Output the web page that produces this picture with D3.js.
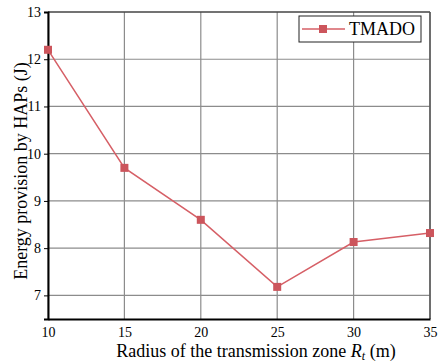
<!DOCTYPE html>
<html>
<head>
<meta charset="utf-8">
<script src="https://cdn.jsdelivr.net/npm/d3@7"></script>
<style>
  body { margin: 0; background: #fff; }
  svg, svg text { font-family: "Liberation Serif", "Times New Roman", serif !important; }
</style>
</head>
<body>
<script>
// chart data
var radius = [10, 15, 20, 25, 30, 35];
var energy = [12.2, 9.7, 8.6, 7.18, 8.13, 8.32];
var seriesName = "TMADO";
var yTicks = [7, 8, 9, 10, 11, 12, 13];

var width = 442, height = 362;
var margin = {top: 12, right: 12, bottom: 43, left: 48};

var svg = d3.select("body").append("svg")
            .attr("width", width)
            .attr("height", height);

var x = d3.scaleLinear().domain([10, 35]).range([margin.left, width - margin.right]);
var y = d3.scaleLinear().domain([6.5, 13]).range([height - margin.bottom, margin.top]);

// grid
svg.append("g").selectAll("line")
   .data(radius)
   .enter().append("line")
   .attr("x1", d => x(d)).attr("x2", d => x(d))
   .attr("y1", y(6.5)).attr("y2", y(13))
   .style("stroke", "#8c8c8c").style("stroke-width", 1.2);

svg.append("g").selectAll("line")
   .data(yTicks)
   .enter().append("line")
   .attr("x1", x(10)).attr("x2", x(35))
   .attr("y1", d => y(d)).attr("y2", d => y(d))
   .style("stroke", "#8c8c8c").style("stroke-width", 1.2);

// frame
svg.append("line").attr("x1", x(10)).attr("x2", x(35)).attr("y1", y(13)).attr("y2", y(13))
   .style("stroke", "#222").style("stroke-width", 1.2);
svg.append("line").attr("x1", x(35)).attr("x2", x(35)).attr("y1", y(13)).attr("y2", y(6.5))
   .style("stroke", "#555").style("stroke-width", 1.5);

// axes
var xAxis = svg.append("g")
               .attr("transform", "translate(0," + y(6.5) + ")")
               .call(d3.axisBottom(x).tickValues(radius).tickFormat(d3.format("d")).tickSize(0).tickPadding(8));
var yAxis = svg.append("g")
               .attr("transform", "translate(" + x(10) + ",0)")
               .call(d3.axisLeft(y).tickValues(yTicks).tickFormat(d3.format("d")).tickSize(4).tickPadding(3));

[xAxis, yAxis].forEach(function(a) {
  a.attr("font-family", null).attr("font-size", null);
  a.select(".domain").style("stroke", "#000").style("stroke-width", 2);
  a.selectAll(".tick line").style("stroke", "#000");
  a.selectAll("text").style("font-size", "14px").style("fill", "#000");
});

// series
var line = d3.line().x((d, i) => x(radius[i])).y(d => y(d));
svg.append("path")
   .datum(energy)
   .attr("d", line)
   .style("fill", "none")
   .style("stroke", "#d65f66")
   .style("stroke-width", 1.5);

svg.selectAll("rect.pt")
   .data(energy)
   .enter().append("rect")
   .attr("class", "pt")
   .attr("x", (d, i) => x(radius[i]) - 4)
   .attr("y", d => y(d) - 4)
   .attr("width", 8).attr("height", 8)
   .style("fill", "#cc555c");

// legend
var lg = svg.append("g").attr("transform", "translate(299,16)");
lg.append("rect").attr("width", 122).attr("height", 26)
  .style("fill", "#fff").style("stroke", "#222").style("stroke-width", 1);
lg.append("line").attr("x1", 3).attr("x2", 46).attr("y1", 13).attr("y2", 13)
  .style("stroke", "#d65f66").style("stroke-width", 1.5);
lg.append("rect").attr("x", 20).attr("y", 9).attr("width", 8).attr("height", 8)
  .style("fill", "#cc555c");
lg.append("text").attr("x", 50).attr("y", 19)
  .style("font-size", "18px").text(seriesName);

// titles
svg.append("text")
   .attr("x", 256).attr("y", 357)
   .attr("text-anchor", "middle")
   .style("font-size", "18px")
   .html('Radius of the transmission zone <tspan font-style="italic">R</tspan><tspan font-style="italic" font-size="12px" dy="3">t</tspan><tspan dy="-3"> (m)</tspan>');

svg.append("text")
   .attr("transform", "translate(27,171) rotate(-90)")
   .attr("text-anchor", "middle")
   .style("font-size", "18px")
   .text("Energy provision by HAPs (J)");
</script>
</body>
</html>
